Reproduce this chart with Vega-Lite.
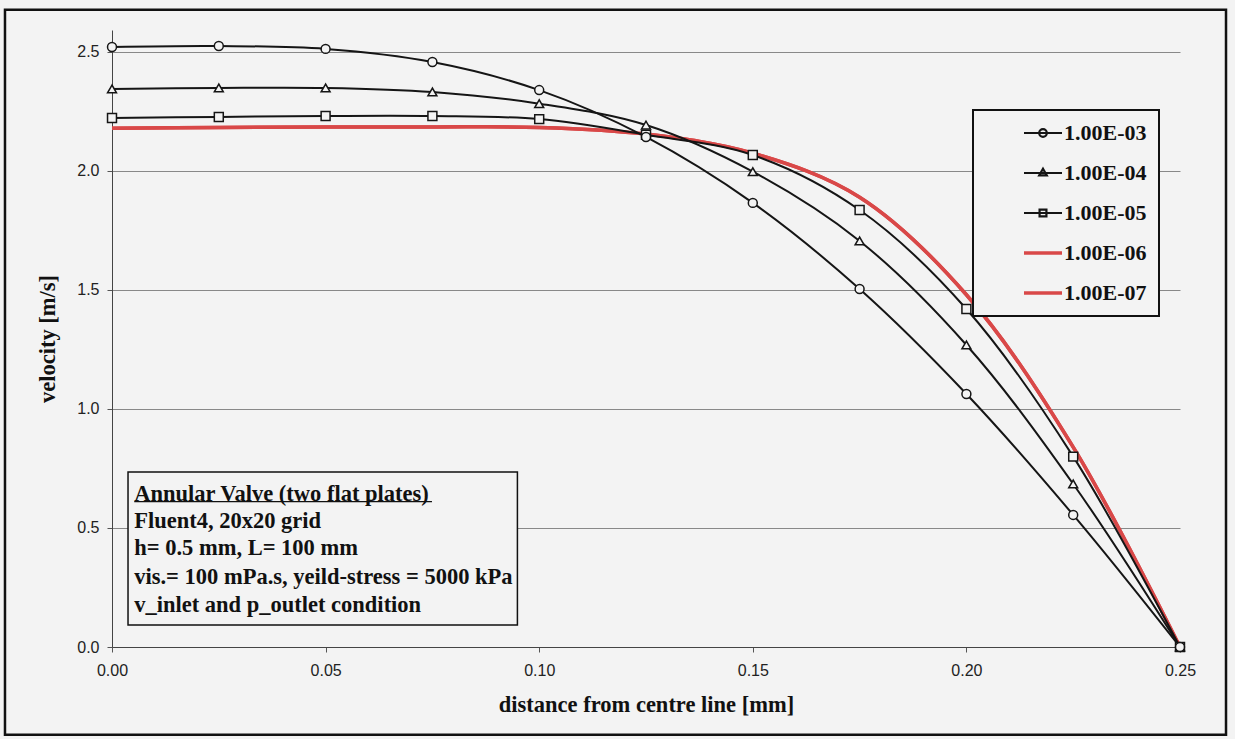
{
  "$schema": "https://vega.github.io/schema/vega-lite/v6.json",
  "width": 1068,
  "height": 617,
  "autosize": "none",
  "padding": {"left": 112, "top": 30, "right": 55, "bottom": 92},
  "background": "#f3f3f3",
  "config": {
    "view": {"stroke": null},
    "axis": {
      "labelFont": "Liberation Sans",
      "labelFontSize": 16,
      "labelColor": "#222",
      "labelFlush": false,
      "tickColor": "#555",
      "tickSize": 5,
      "domainColor": "#444",
      "titleFont": "Liberation Serif",
      "titleFontSize": 22.5,
      "titleFontWeight": "bold",
      "titleColor": "#111"
    }
  },
  "datasets": {
    "profiles": [
      {"series": "1.00E-07", "distance": 0, "velocity": 2.18},
      {"series": "1.00E-07", "distance": 0.025, "velocity": 2.183},
      {"series": "1.00E-07", "distance": 0.05, "velocity": 2.185},
      {"series": "1.00E-07", "distance": 0.075, "velocity": 2.185},
      {"series": "1.00E-07", "distance": 0.1, "velocity": 2.183},
      {"series": "1.00E-07", "distance": 0.125, "velocity": 2.155},
      {"series": "1.00E-07", "distance": 0.15, "velocity": 2.075},
      {"series": "1.00E-07", "distance": 0.175, "velocity": 1.89},
      {"series": "1.00E-07", "distance": 0.2, "velocity": 1.48},
      {"series": "1.00E-07", "distance": 0.225, "velocity": 0.84},
      {"series": "1.00E-07", "distance": 0.25, "velocity": 0},
      {"series": "1.00E-06", "distance": 0, "velocity": 2.18},
      {"series": "1.00E-06", "distance": 0.025, "velocity": 2.183},
      {"series": "1.00E-06", "distance": 0.05, "velocity": 2.185},
      {"series": "1.00E-06", "distance": 0.075, "velocity": 2.185},
      {"series": "1.00E-06", "distance": 0.1, "velocity": 2.183},
      {"series": "1.00E-06", "distance": 0.125, "velocity": 2.155},
      {"series": "1.00E-06", "distance": 0.15, "velocity": 2.075},
      {"series": "1.00E-06", "distance": 0.175, "velocity": 1.89},
      {"series": "1.00E-06", "distance": 0.2, "velocity": 1.48},
      {"series": "1.00E-06", "distance": 0.225, "velocity": 0.84},
      {"series": "1.00E-06", "distance": 0.25, "velocity": 0},
      {"series": "1.00E-05", "distance": 0, "velocity": 2.223},
      {"series": "1.00E-05", "distance": 0.025, "velocity": 2.227},
      {"series": "1.00E-05", "distance": 0.05, "velocity": 2.231},
      {"series": "1.00E-05", "distance": 0.075, "velocity": 2.231},
      {"series": "1.00E-05", "distance": 0.1, "velocity": 2.218},
      {"series": "1.00E-05", "distance": 0.125, "velocity": 2.152},
      {"series": "1.00E-05", "distance": 0.15, "velocity": 2.067},
      {"series": "1.00E-05", "distance": 0.175, "velocity": 1.836},
      {"series": "1.00E-05", "distance": 0.2, "velocity": 1.42},
      {"series": "1.00E-05", "distance": 0.225, "velocity": 0.8},
      {"series": "1.00E-05", "distance": 0.25, "velocity": 0},
      {"series": "1.00E-04", "distance": 0, "velocity": 2.345},
      {"series": "1.00E-04", "distance": 0.025, "velocity": 2.349},
      {"series": "1.00E-04", "distance": 0.05, "velocity": 2.349},
      {"series": "1.00E-04", "distance": 0.075, "velocity": 2.332},
      {"series": "1.00E-04", "distance": 0.1, "velocity": 2.283},
      {"series": "1.00E-04", "distance": 0.125, "velocity": 2.193},
      {"series": "1.00E-04", "distance": 0.15, "velocity": 1.997},
      {"series": "1.00E-04", "distance": 0.175, "velocity": 1.706},
      {"series": "1.00E-04", "distance": 0.2, "velocity": 1.269},
      {"series": "1.00E-04", "distance": 0.225, "velocity": 0.685},
      {"series": "1.00E-04", "distance": 0.25, "velocity": 0},
      {"series": "1.00E-03", "distance": 0, "velocity": 2.521},
      {"series": "1.00E-03", "distance": 0.025, "velocity": 2.525},
      {"series": "1.00E-03", "distance": 0.05, "velocity": 2.513},
      {"series": "1.00E-03", "distance": 0.075, "velocity": 2.458},
      {"series": "1.00E-03", "distance": 0.1, "velocity": 2.34},
      {"series": "1.00E-03", "distance": 0.125, "velocity": 2.143},
      {"series": "1.00E-03", "distance": 0.15, "velocity": 1.866},
      {"series": "1.00E-03", "distance": 0.175, "velocity": 1.504},
      {"series": "1.00E-03", "distance": 0.2, "velocity": 1.063},
      {"series": "1.00E-03", "distance": 0.225, "velocity": 0.555},
      {"series": "1.00E-03", "distance": 0.25, "velocity": 0}
    ]
  },
  "layer": [
    {
      "data": {"values": [{}]},
      "mark": {"type": "rect", "fill": null, "stroke": "#111", "strokeWidth": 2.5, "clip": false},
      "encoding": {
        "x": {"datum": -0.02505, "type": "quantitative", "title": "distance from centre line [mm]"},
        "x2": {"datum": 0.26077},
        "y": {"datum": 2.678, "type": "quantitative", "title": "velocity [m/s]"},
        "y2": {"datum": -0.369}
      }
    },
    {
      "data": {"name": "profiles"},
      "mark": {"type": "line", "interpolate": "catmull-rom"},
      "encoding": {
        "x": {
          "field": "distance",
          "type": "quantitative",
          "title": "distance from centre line [mm]",
          "scale": {"domain": [0, 0.25], "nice": false, "zero": false},
          "axis": {
            "values": [0, 0.05, 0.1, 0.15, 0.2, 0.25],
            "format": ".2f",
            "grid": false,
            "labelPadding": 10,
            "titlePadding": 15
          }
        },
        "y": {
          "field": "velocity",
          "type": "quantitative",
          "title": "velocity [m/s]",
          "scale": {"domain": [0, 2.5924], "nice": false, "zero": false},
          "axis": {
            "values": [0, 0.5, 1, 1.5, 2, 2.5],
            "format": ".1f",
            "grid": true,
            "gridColor": "#888",
            "gridWidth": 1,
            "labelPadding": 8,
            "titlePadding": 17
          }
        },
        "color": {
          "field": "series",
          "type": "nominal",
          "title": null,
          "scale": {
            "domain": ["1.00E-03", "1.00E-04", "1.00E-05", "1.00E-06", "1.00E-07"],
            "range": ["#151515", "#151515", "#151515", "#d94848", "#d94848"]
          },
          "legend": {
            "orient": "none",
            "legendX": 861,
            "legendY": 80,
            "padding": 12,
            "symbolOffset": 47,
            "symbolSize": 1444,
            "labelFont": "Liberation Serif",
            "labelFontSize": 22,
            "labelFontWeight": "bold",
            "labelColor": "#111",
            "labelOffset": 10,
            "rowPadding": 18,
            "strokeColor": "#111",
            "fillColor": "#f3f3f3",
            "encode": {
              "symbols": {
                "update": {
                  "shape": {"signal": "datum.value === '1.00E-03' ? 'M-1,0H1M0.2,0A0.2,0.2 0 1,1 -0.2,0A0.2,0.2 0 1,1 0.2,0' : datum.value === '1.00E-04' ? 'M-1,0H1M0,-0.22L0.2,0.13L-0.2,0.13Z' : datum.value === '1.00E-05' ? 'M-1,0H1M-0.18,-0.18H0.18V0.18H-0.18Z' : 'M-1,0H1'"},
                  "fill": {"value": "transparent"},
                  "strokeWidth": {"signal": "datum.value === '1.00E-06' || datum.value === '1.00E-07' ? 3.5 : 2.2"}
                }
              },
              "legend": {"update": {"strokeWidth": {"value": 2}}}
            }
          }
        },
        "strokeWidth": {
          "condition": {"test": "datum.series === '1.00E-06' || datum.series === '1.00E-07'", "value": 3.5},
          "value": 2
        }
      }
    },
    {
      "data": {"name": "profiles"},
      "transform": [{"filter": "datum.series === '1.00E-03' || datum.series === '1.00E-04' || datum.series === '1.00E-05'"}],
      "mark": {"type": "point", "filled": true, "fill": "#f3f3f3", "stroke": "#151515", "strokeWidth": 1.5, "size": 80, "opacity": 1},
      "encoding": {
        "x": {"field": "distance", "type": "quantitative", "title": "distance from centre line [mm]"},
        "y": {"field": "velocity", "type": "quantitative", "title": "velocity [m/s]"},
        "shape": {
          "field": "series",
          "type": "nominal",
          "scale": {"domain": ["1.00E-03", "1.00E-04", "1.00E-05"], "range": ["circle", "triangle-up", "square"]},
          "legend": null
        }
      }
    },
    {
      "data": {"values": [{}]},
      "mark": {"type": "rect", "fill": "#f3f3f3", "stroke": "#111", "strokeWidth": 1.5},
      "encoding": {
        "x": {"datum": 0.00375, "type": "quantitative", "title": "distance from centre line [mm]"},
        "x2": {"datum": 0.0949},
        "y": {"datum": 0.735, "type": "quantitative", "title": "velocity [m/s]"},
        "y2": {"datum": 0.092}
      }
    },
    {
      "data": {"values": [{}]},
      "mark": {"type": "rule", "stroke": "#111", "strokeWidth": 1.3},
      "encoding": {
        "x": {"datum": 0.0052, "type": "quantitative", "title": "distance from centre line [mm]"},
        "x2": {"datum": 0.0749},
        "y": {"datum": 0.6105, "type": "quantitative", "title": "velocity [m/s]"}
      }
    },
    {
      "data": {"values": [{}]},
      "mark": {"type": "text", "align": "left", "baseline": "middle", "font": "Liberation Serif", "fontSize": 22.5, "fontWeight": "bold", "color": "#111"},
      "encoding": {
        "x": {"datum": 0.0052, "type": "quantitative", "title": "distance from centre line [mm]"},
        "y": {"datum": 0.643, "type": "quantitative", "title": "velocity [m/s]"},
        "text": {"value": "Annular Valve (two flat plates)"}
      }
    },
    {
      "data": {"values": [{}]},
      "mark": {"type": "text", "align": "left", "baseline": "middle", "font": "Liberation Serif", "fontSize": 22.5, "fontWeight": "bold", "color": "#111"},
      "encoding": {
        "x": {"datum": 0.0052, "type": "quantitative", "title": "distance from centre line [mm]"},
        "y": {"datum": 0.531, "type": "quantitative", "title": "velocity [m/s]"},
        "text": {"value": "Fluent4, 20x20 grid"}
      }
    },
    {
      "data": {"values": [{}]},
      "mark": {"type": "text", "align": "left", "baseline": "middle", "font": "Liberation Serif", "fontSize": 22.5, "fontWeight": "bold", "color": "#111"},
      "encoding": {
        "x": {"datum": 0.0052, "type": "quantitative", "title": "distance from centre line [mm]"},
        "y": {"datum": 0.415, "type": "quantitative", "title": "velocity [m/s]"},
        "text": {"value": "h= 0.5 mm, L= 100 mm"}
      }
    },
    {
      "data": {"values": [{}]},
      "mark": {"type": "text", "align": "left", "baseline": "middle", "font": "Liberation Serif", "fontSize": 22.5, "fontWeight": "bold", "color": "#111"},
      "encoding": {
        "x": {"datum": 0.0052, "type": "quantitative", "title": "distance from centre line [mm]"},
        "y": {"datum": 0.295, "type": "quantitative", "title": "velocity [m/s]"},
        "text": {"value": "vis.= 100 mPa.s, yeild-stress = 5000 kPa"}
      }
    },
    {
      "data": {"values": [{}]},
      "mark": {"type": "text", "align": "left", "baseline": "middle", "font": "Liberation Serif", "fontSize": 22.5, "fontWeight": "bold", "color": "#111"},
      "encoding": {
        "x": {"datum": 0.0052, "type": "quantitative", "title": "distance from centre line [mm]"},
        "y": {"datum": 0.176, "type": "quantitative", "title": "velocity [m/s]"},
        "text": {"value": "v_inlet and p_outlet condition"}
      }
    }
  ]
}
